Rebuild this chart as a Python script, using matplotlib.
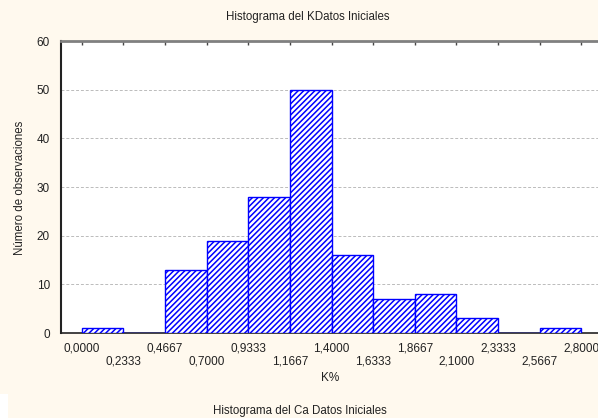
import matplotlib
matplotlib.use("Agg")
import matplotlib.pyplot as plt
from matplotlib.patches import Rectangle
import numpy as np

plt.rcParams['font.family'] = ['Liberation Sans', 'DejaVu Sans']
plt.rcParams['hatch.linewidth'] = 1.1
plt.rcParams['hatch.color'] = '#3333ff'

# Histogram data: bin edges (K%) and counts per bin
bin_edges = [0.0, 0.2333, 0.4667, 0.7000, 0.9333, 1.1667, 1.4000,
             1.6333, 1.8667, 2.1000, 2.3333, 2.5667, 2.8000]
counts = [1, 0, 13, 19, 28, 50, 16, 7, 8, 3, 0, 1]
tick_labels = ["0,0000", "0,2333", "0,4667", "0,7000", "0,9333", "1,1667",
               "1,4000", "1,6333", "1,8667", "2,1000", "2,3333", "2,5667",
               "2,8000"]
y_ticks = [0, 10, 20, 30, 40, 50, 60]

cream = '#fff9ee'
W, H = 598, 418
fig = plt.figure(figsize=(W / 100, H / 100), dpi=100, facecolor=cream)

# small white strip at lower left of the canvas
fig.patches.append(Rectangle((0, 0), 8 / W, 24 / H, transform=fig.transFigure,
                             facecolor='white', edgecolor='none', zorder=0))

ax = fig.add_axes([61 / W, 1 - 333 / H, (602 - 61) / W, (333 - 41) / H])
ax.set_facecolor('white')

edges = np.array(bin_edges)
widths = np.diff(edges)
ax.bar(edges[:-1], counts, width=widths, align='edge', facecolor='white',
       edgecolor='#0000ff', linewidth=1.0, hatch='//////', zorder=3)

ax.set_xlim(-0.1167, 2.9167)
ax.set_ylim(0, 60)

ax.set_yticks(y_ticks)
ax.set_yticklabels([str(v) for v in y_ticks], fontsize=8.5, color='#222222')
ax.tick_params(axis='y', length=0, pad=8)

ax.set_xticks(bin_edges)
labels = [lab if i % 2 == 0 else "\n" + lab for i, lab in enumerate(tick_labels)]
ax.set_xticklabels(labels, fontsize=8.5, color='#222222', linespacing=1.1)
ax.tick_params(axis='x', bottom=False, top=True, direction='in', length=3,
               width=1, color='#444444', pad=7)

for v in y_ticks[1:-1]:
    ax.axhline(v, color='#bbbbbb', linestyle=(0, (3, 2)), linewidth=0.7, zorder=1)

ax.spines['right'].set_visible(False)
ax.spines['top'].set_color('#808080')
ax.spines['top'].set_linewidth(2)
ax.spines['left'].set_color('#222222')
ax.spines['left'].set_linewidth(1.5)
ax.spines['bottom'].set_color('#222222')
ax.spines['bottom'].set_linewidth(1.2)

fig.text(308 / W, 1 - 17 / H, "Histograma del KDatos Iniciales", ha='center',
         va='center', fontsize=8.3, color='#222222')
fig.text(330 / W, 1 - 378 / H, "K%", ha='center', va='center', fontsize=8.5,
         color='#222222')
fig.text(20 / W, 1 - 188 / H, "Número de observaciones", ha='center',
         va='center', rotation=90, fontsize=8.3, color='#222222')
fig.text(300 / W, 1 - 411 / H, "Histograma del Ca Datos Iniciales",
         ha='center', va='center', fontsize=8.3, color='#222222')

fig.savefig("out.png", dpi=100, facecolor=cream)
